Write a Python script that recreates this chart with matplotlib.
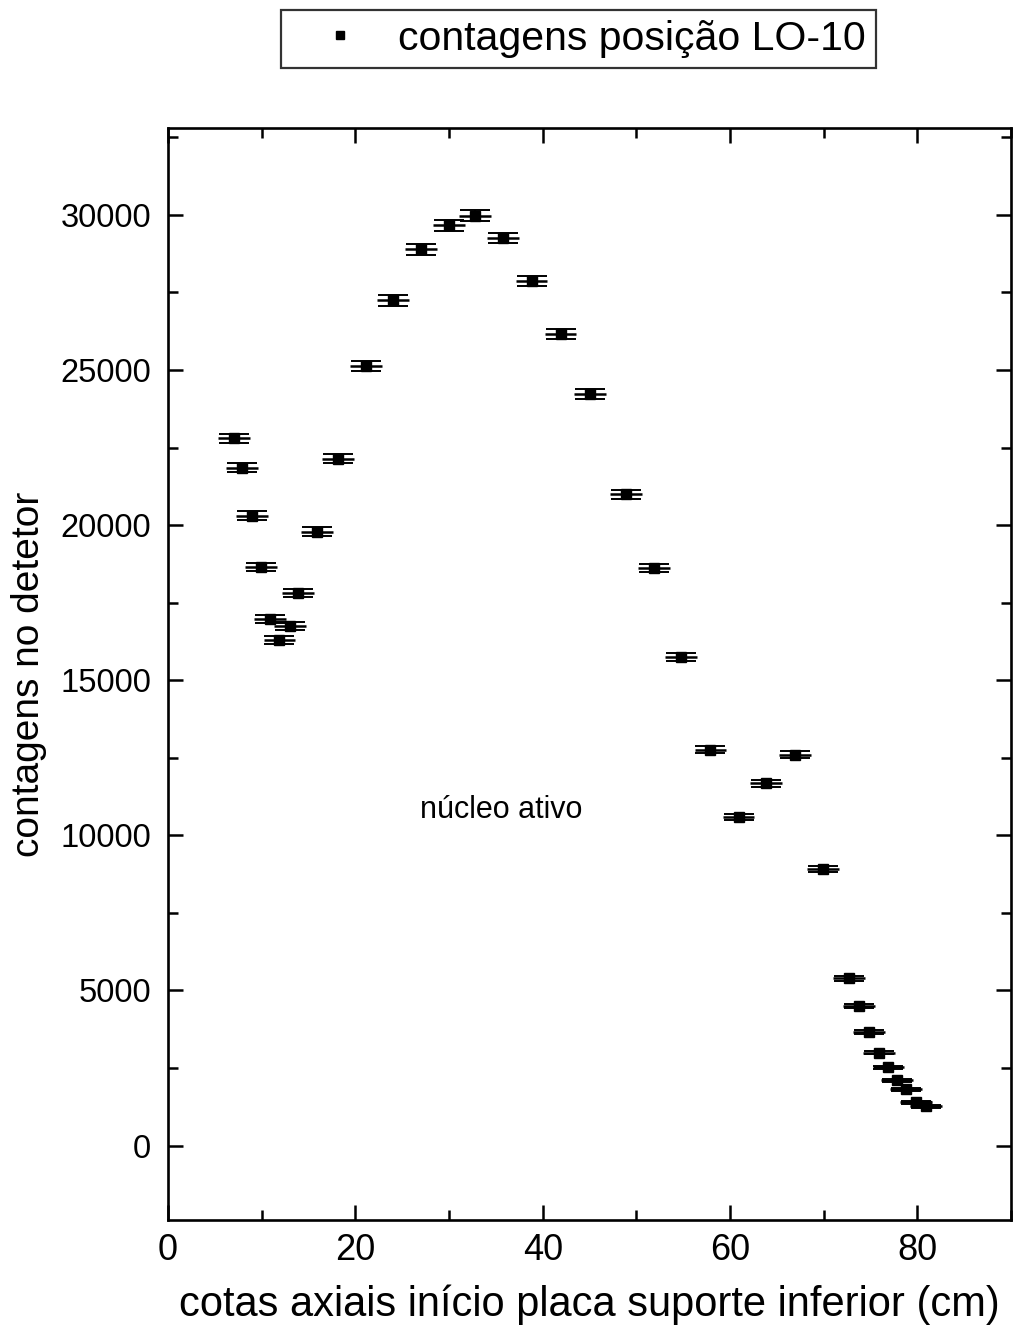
import numpy as np
import matplotlib
matplotlib.use("Agg")
import matplotlib.pyplot as plt
from matplotlib.ticker import MultipleLocator

plt.rcParams['font.family'] = ['Liberation Sans', 'DejaVu Sans']

# posição axial (cm) e contagens no detetor
cota_cm = [7.0, 7.9, 9.0, 9.9, 10.9, 11.9, 13.0, 13.9, 15.9, 18.1,
           21.1, 24.0, 27.0, 30.0, 32.8, 35.8, 38.8, 41.9, 45.0, 48.9,
           51.9, 54.8, 57.9, 60.9, 63.8, 66.9, 69.9, 72.7, 73.8, 74.8,
           75.9, 76.9, 77.8, 78.8, 79.8, 80.9]
contagens = [22800, 21850, 20300, 18650, 16970, 16290, 16740, 17800, 19790, 22140,
             25120, 27240, 28890, 29660, 29970, 29250, 27860, 26170, 24230, 20990,
             18620, 15740, 12760, 10590, 11680, 12600, 8910, 5385, 4510, 3665,
             2990, 2530, 2110, 1810, 1390, 1260]
erro_cota = 1.7  # incerteza na posição (cm)

x = np.array(cota_cm)
y = np.array(contagens)
yerr = np.sqrt(y)  # erro de contagem (Poisson)

fig = plt.figure(figsize=(10.22, 13.37), dpi=100)
ax = fig.add_axes([0.1644, 0.0875, 0.825, 0.8168])

ax.errorbar(x, y, xerr=erro_cota, fmt='none', ecolor='black', elinewidth=1.8, capsize=0)
ax.errorbar(x, y, yerr=yerr, fmt='none', ecolor='black', elinewidth=1.2,
            capsize=11, capthick=1.4)
ax.plot(x, y, 's', color='black', markersize=7, label='contagens posição LO-10')

ax.set_xlim(0, 90)
ax.set_ylim(-2400, 32800)
ax.xaxis.set_major_locator(MultipleLocator(20))
ax.xaxis.set_minor_locator(MultipleLocator(10))
ax.yaxis.set_major_locator(MultipleLocator(5000))
ax.yaxis.set_minor_locator(MultipleLocator(2500))
ax.tick_params(which='both', direction='in', top=True, right=True, width=1.8)
ax.tick_params(which='major', length=11)
ax.tick_params(which='minor', length=7)
ax.tick_params(axis='y', labelsize=23.5, pad=12)
ax.tick_params(axis='x', labelsize=26, pad=9)
for s in ax.spines.values():
    s.set_linewidth(1.9)

ax.set_xlabel('cotas axiais início placa suporte inferior (cm)', fontsize=30, labelpad=12)
ax.set_ylabel('contagens no detetor', fontsize=28, labelpad=10)

ax.text(35.6, 10800, 'núcleo ativo', fontsize=22, ha='center', va='center')

leg = fig.legend(loc='center', bbox_to_anchor=(0.566, 0.971), fontsize=29.5,
                 frameon=True, fancybox=False, edgecolor='black', markerscale=0.8,
                 handletextpad=0.2, borderpad=0.25, handlelength=2.4)
leg.get_frame().set_linewidth(1.6)

fig.savefig('out.png', dpi=100)
